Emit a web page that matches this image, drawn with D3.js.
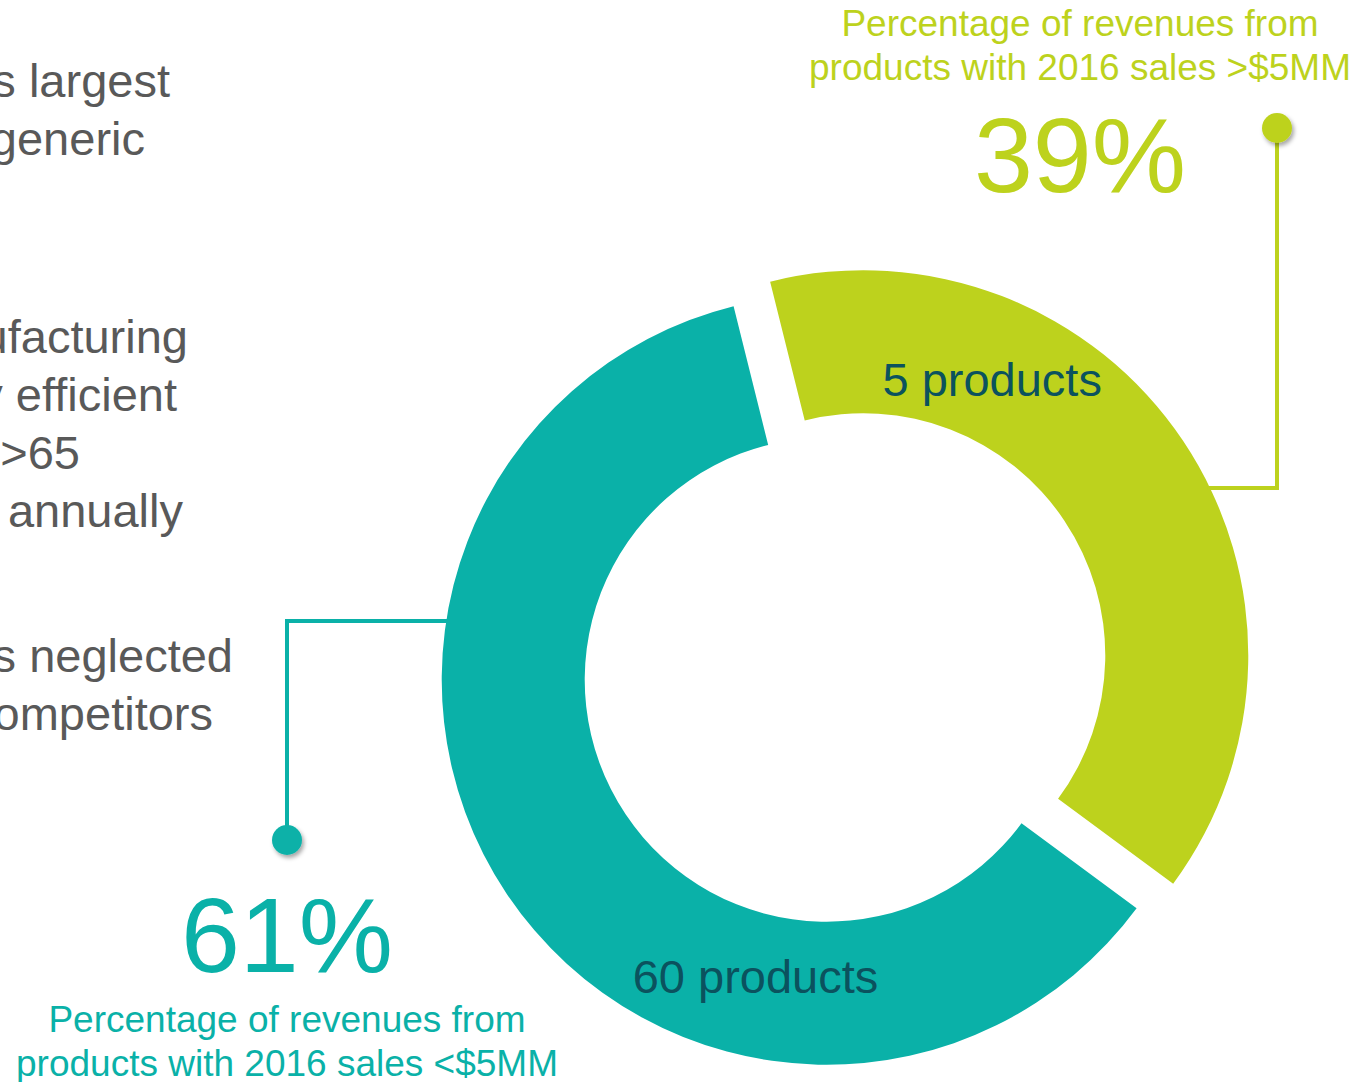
<!DOCTYPE html>
<html>
<head>
<meta charset="utf-8">
<script src="https://cdn.jsdelivr.net/npm/d3@7"></script>
<style>
  body { margin: 0; background: #fff; }
  svg { display: block; font-family: "Liberation Sans", Arial, sans-serif; }
</style>
</head>
<body>
<div id="chart"></div>
<script>
// data
var segments = ["sales >$5MM", "sales <$5MM"];
var shares = [39, 61];
var productCounts = [5, 60];
var colors = ["#BDD21D", "#0AB1A8"];
var subtitles = [
  ["Percentage of revenues from", "products with 2016 sales >$5MM"],
  ["Percentage of revenues from", "products with 2016 sales <$5MM"]
];
var sideText = [
  ["s largest", "generic"],
  ["manufacturing", "y efficient", ">65", "annually"],
  ["s neglected", "competitors"]
];

var width = 1371, height = 1082;
var cx = 845, cy = 667.5;
var outerR = 385, innerR = 242, explode = 22;
var startDeg = -14;

var svg = d3.select("#chart").append("svg")
  .attr("width", width)
  .attr("height", height);

svg.append("rect").attr("width", width).attr("height", height).attr("fill", "#fff");

// dot shadow
var defs = svg.append("defs");
defs.append("filter").attr("id", "shadow")
  .attr("x", "-50%").attr("y", "-50%").attr("width", "200%").attr("height", "200%")
  .append("feDropShadow")
  .attr("dx", 2).attr("dy", 3).attr("stdDeviation", 2)
  .attr("flood-color", "#000").attr("flood-opacity", 0.35);

// left text, cut by the page edge
var sideGroups = [
  {x: [170, 145], y: 97, step: 58},
  {x: [188, 177, 80, 183], y: 353, step: 58},
  {x: [233, 213], y: 672, step: 58}
];
sideText.forEach(function(lines, g){
  svg.selectAll(".side" + g)
    .data(lines)
    .enter()
    .append("text")
    .attr("x", function(d, i){ return sideGroups[g].x[i]; })
    .attr("y", function(d, i){ return sideGroups[g].y + i * sideGroups[g].step; })
    .attr("text-anchor", "end")
    .attr("font-size", 47)
    .attr("fill", "#595959")
    .text(function(d){ return d; });
});

// donut
var start = startDeg * Math.PI / 180;
var pie = d3.pie().sort(null).startAngle(start).endAngle(start + 2 * Math.PI);
var arc = d3.arc().innerRadius(innerR).outerRadius(outerR);
var arcs = pie(shares);

function sliceCenter(d){
  var mid = (d.startAngle + d.endAngle) / 2;
  return [cx + Math.sin(mid) * explode, cy - Math.cos(mid) * explode];
}

var slices = svg.selectAll(".slice")
  .data(arcs)
  .enter()
  .append("g")
  .attr("class", "slice")
  .attr("transform", function(d){
    var c = sliceCenter(d);
    return "translate(" + c[0] + "," + c[1] + ")";
  });

slices.append("path")
  .attr("d", arc)
  .attr("fill", function(d, i){ return colors[i]; });

// product labels inside the ring
var labelAngles = [25, 193.5];
var labelR = 305;
slices.append("text")
  .attr("x", function(d, i){ return labelR * Math.sin(labelAngles[i] * Math.PI / 180); })
  .attr("y", function(d, i){ return -labelR * Math.cos(labelAngles[i] * Math.PI / 180) + 17; })
  .attr("text-anchor", "middle")
  .attr("font-size", 47)
  .attr("fill", "#0B525E")
  .text(function(d, i){ return productCounts[i] + " products"; });

// callouts: [line y at ring, side (+1 right, -1 left), elbow x, dot y]
var callouts = [
  {y: 488, side: 1, x: 1277, dotY: 128},
  {y: 621, side: -1, x: 287, dotY: 840}
];
callouts.forEach(function(c, i){
  var sc = sliceCenter(arcs[i]);
  var ringX = sc[0] + c.side * Math.sqrt(outerR * outerR - (c.y - sc[1]) * (c.y - sc[1])) - c.side * 3;
  svg.append("polyline")
    .attr("points", [[ringX, c.y], [c.x, c.y], [c.x, c.dotY]].map(function(p){ return p.join(","); }).join(" "))
    .attr("fill", "none")
    .attr("stroke", colors[i])
    .attr("stroke-width", 4)
    .attr("stroke-linejoin", "miter");
  svg.append("circle")
    .attr("cx", c.x)
    .attr("cy", c.dotY)
    .attr("r", 15)
    .attr("fill", colors[i])
    .attr("filter", "url(#shadow)");
});

// big percentages and captions
var captions = [
  {x: 1080, pctY: 192, subY: 36},
  {x: 287, pctY: 972, subY: 1032}
];
captions.forEach(function(c, i){
  svg.append("text")
    .attr("x", c.x)
    .attr("y", c.pctY)
    .attr("text-anchor", "middle")
    .attr("font-size", 106)
    .attr("fill", colors[i])
    .text(shares[i] + "%");

  svg.selectAll(".sub" + i)
    .data(subtitles[i])
    .enter()
    .append("text")
    .attr("x", c.x)
    .attr("y", function(d, j){ return c.subY + j * 44; })
    .attr("text-anchor", "middle")
    .attr("font-size", 37)
    .attr("fill", colors[i])
    .text(function(d){ return d; });
});
</script>
</body>
</html>
